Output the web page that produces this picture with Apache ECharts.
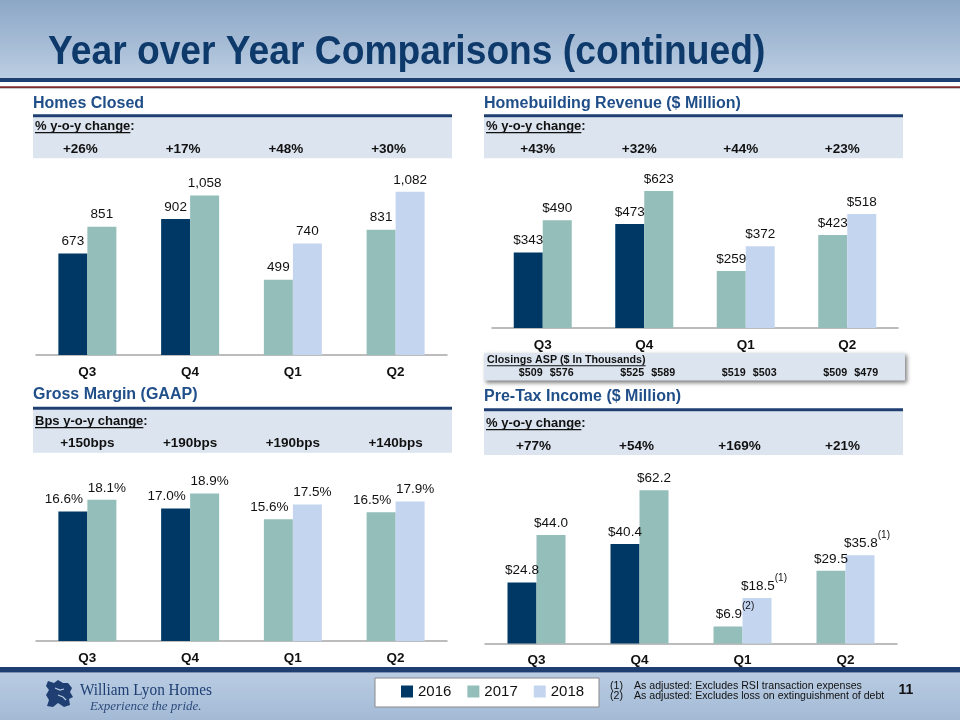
<!DOCTYPE html>
<html><head><meta charset="utf-8">
<script src="https://cdn.jsdelivr.net/npm/echarts@6/dist/echarts.min.js"></script>
<style>html,body{margin:0;padding:0;background:#fff}#c{width:960px;height:720px}</style>
</head><body><div id="c"></div>
<script>
// ---------------- data ----------------
const quarters = ['Q3', 'Q4', 'Q1', 'Q2'];
const years = ['2016', '2017', '2018'];
const priorYear = ['2016', '2016', '2017', '2017'];
const currentYear = ['2017', '2017', '2018', '2018'];

const homesPrior = [673, 902, 499, 831];
const homesCurrent = [851, 1058, 740, 1082];
const homesChange = ['+26%', '+17%', '+48%', '+30%'];

const revenuePrior = [343, 473, 259, 423];
const revenueCurrent = [490, 623, 372, 518];
const revenueChange = ['+43%', '+32%', '+44%', '+23%'];
const aspPrior = [509, 525, 519, 509];
const aspCurrent = [576, 589, 503, 479];

const marginPrior = [16.6, 17.0, 15.6, 16.5];
const marginCurrent = [18.1, 18.9, 17.5, 17.9];
const marginChange = ['+150bps', '+190bps', '+190bps', '+140bps'];

const pretaxPrior = [24.8, 40.4, 6.9, 29.5];
const pretaxCurrent = [44.0, 62.2, 18.5, 35.8];
const pretaxPriorNote = ['', '', '(2)', ''];
const pretaxCurrentNote = ['', '', '(1)', '(1)'];
const pretaxChange = ['+77%', '+54%', '+169%', '+21%'];

const footnoteMarks = ['(1)', '(2)'];
const footnotes = ['As adjusted: Excludes RSI transaction expenses', 'As adjusted: Excludes loss on extinguishment of debt'];

// ---------------- style ----------------
const FONT = '"Liberation Sans", Arial, Helvetica, sans-serif';
const SERIF = '"Liberation Serif", "Times New Roman", serif';
const NAVY = '#1F3F73';
const HEAD = '#1F4E89';
const BAND = '#DCE4EF';
const yearColor = { '2016': '#003865', '2017': '#93BEB9', '2018': '#C4D5EF' };

const panels = [
  { title: 'Homes Closed', sub: '% y-o-y change', change: homesChange, prior: homesPrior, current: homesCurrent,
    fmt: v => v.toLocaleString('en-US'), x0: 33, x1: 452, titleY: 104, lineY: 114.3, bandY1: 158.3, subY: 126, valY: 149, valShift: -7,
    grid: { left: 36, width: 411, top: 174, height: 181 }, max: 1200 },
  { title: 'Homebuilding Revenue ($ Million)', sub: '% y-o-y change', change: revenueChange, prior: revenuePrior, current: revenueCurrent,
    fmt: v => '$' + v, x0: 484, x1: 903, titleY: 104, lineY: 114.3, bandY1: 158.3, subY: 126, valY: 149, valShift: -5,
    grid: { left: 492, width: 406, top: 174, height: 154 }, max: 700 },
  { title: 'Gross Margin (GAAP)', sub: 'Bps y-o-y change', change: marginChange, prior: marginPrior, current: marginCurrent,
    fmt: v => v.toFixed(1) + '%', x0: 33, x1: 452, titleY: 395, lineY: 406.7, bandY1: 452.7, subY: 421, valY: 443, valShift: 0,
    grid: { left: 36, width: 411, top: 485, height: 156 }, max: 20, offL: [-9, 0], offR: [5, 0] },
  { title: 'Pre-Tax Income ($ Million)', sub: '% y-o-y change', change: pretaxChange, prior: pretaxPrior, current: pretaxCurrent,
    fmt: v => '$' + v.toFixed(1), x0: 484, x1: 903, titleY: 397, lineY: 408.3, bandY1: 455, subY: 423, valY: 446, valShift: -3,
    grid: { left: 485, width: 412, top: 471, height: 172.5 }, max: 70, notesL: pretaxPriorNote, notesR: pretaxCurrentNote }
];

// ---------------- series ----------------
function buildSeries(p, gi) {
  const out = [];
  const slots = [
    { key: 'L', vals: p.prior, yrs: priorYear, notes: p.notesL, off: p.offL || [0, 0] },
    { key: 'R', vals: p.current, yrs: currentYear, notes: p.notesR, off: p.offR || [0, 0] }
  ];
  slots.forEach(s => {
    years.forEach(y => {
      if (!s.yrs.includes(y)) return;
      out.push({
        name: y, type: 'bar', xAxisIndex: gi, yAxisIndex: gi, stack: s.key + gi,
        barWidth: 29, barGap: '0%',
        itemStyle: { color: yearColor[y] },
        label: {
          show: true, position: 'top', distance: 5, fontSize: 13.5, color: '#111', fontFamily: FONT, offset: s.off,
          formatter: prm => {
            const n = s.notes ? s.notes[prm.dataIndex] : '';
            const t = p.fmt(prm.value);
            return n ? '{v|' + t + '}{s|' + n + '}' : t;
          },
          rich: {
            v: { fontSize: 13.5, fontFamily: FONT, color: '#111', lineHeight: 20, verticalAlign: 'bottom' },
            s: { fontSize: 10, fontFamily: FONT, color: '#111', lineHeight: 10, verticalAlign: 'top' }
          }
        },
        data: s.vals.map((v, i) => {
          if (s.yrs[i] !== y) return null;
          const n = s.notes ? s.notes[i] : '';
          return n ? { value: v, label: { offset: [s.off[0] + 7, s.off[1]] } } : v;
        })
      });
    });
  });
  return out;
}

const series = [];
panels.forEach((p, gi) => series.push(...buildSeries(p, gi)));

const chart = echarts.init(document.getElementById('c'), null, { renderer: 'canvas', width: 960, height: 720 });

chart.setOption({
  animation: false,
  backgroundColor: '#ffffff',
  textStyle: { fontFamily: FONT },
  legend: {
    data: years, left: 401, top: 684, padding: 0, itemWidth: 12, itemHeight: 12, itemGap: 16, icon: 'rect',
    selectedMode: false, textStyle: { fontSize: 15, color: '#111', fontFamily: FONT }
  },
  grid: panels.map(p => ({ left: p.grid.left, top: p.grid.top, width: p.grid.width, height: p.grid.height })),
  xAxis: panels.map((p, gi) => ({
    type: 'category', gridIndex: gi, data: quarters,
    axisLine: { lineStyle: { color: '#A6A6A6', width: 1.5 } },
    axisTick: { show: false },
    axisLabel: { fontWeight: 'bold', fontSize: 13.5, color: '#111', margin: 10, fontFamily: FONT }
  })),
  yAxis: panels.map((p, gi) => ({ type: 'value', gridIndex: gi, min: 0, max: p.max, show: false, splitLine: { show: false } })),
  series: series
});

// ---------------- decorations ----------------
const ctx = document.createElement('canvas').getContext('2d');
function tw(text, font) { ctx.font = font; return ctx.measureText(text).width; }
function F(size, weight, fam) { return (weight || 'normal') + ' ' + size + 'px ' + (fam || FONT); }
function text(t, x, y, font, color, align, extra) {
  return Object.assign({
    type: 'text', x: x, y: y, silent: true, z: 10,
    style: { text: t, font: font, fill: color || '#111', textAlign: align || 'left', textVerticalAlign: 'middle', align: align || 'left', verticalAlign: 'middle' }
  }, extra || {});
}
function rect(x, y, w, h, fill, extra) {
  return Object.assign({ type: 'rect', silent: true, z: 1, shape: { x: x, y: y, width: w, height: h }, style: { fill: fill } }, extra || {});
}

const g = [];
// header bar
g.push(rect(0, 0, 960, 78, new echarts.graphic.LinearGradient(0, 0, 0, 1, [
  { offset: 0, color: '#8CA7C6' }, { offset: 1, color: '#BBCDE2' }]), { z: 0 }));
g.push(rect(0, 78, 960, 4, NAVY));
g.push(rect(0, 86.3, 960, 1.6, '#7E2B2E'));
g.push(rect(0, 87.9, 960, 1, '#C9C9C9'));
g.push(text('Year over Year Comparisons (continued)', 48, 52.5, F(40, 'bold'), '#0E3A6B', 'left', { scaleX: 0.93, originX: 0, originY: 0 }));

// footer
g.push(rect(0, 667, 960, 5.5, NAVY));
g.push(rect(0, 672.5, 960, 47.5, new echarts.graphic.LinearGradient(0, 0, 0, 1, [
  { offset: 0, color: '#B9CCE2' }, { offset: 1, color: '#A3BAD6' }]), { z: 0 }));
// lion mark (decorative)
g.push({ type: 'polygon', silent: true, z: 2, shape: { points: [[48, 681], [54, 683], [58, 680], [63, 683], [68, 683], [72, 688], [70, 692], [73, 697], [69, 699], [70, 705], [64, 707], [58, 703], [53, 707], [47, 706], [49, 700], [46, 695], [49, 690], [46, 686]] }, style: { fill: NAVY } });
g.push({ type: 'polyline', silent: true, z: 3, shape: { points: [[55, 688], [60, 690], [64, 689]] }, style: { stroke: '#B9CCE2', lineWidth: 1.2, fill: null } });
g.push({ type: 'polyline', silent: true, z: 3, shape: { points: [[58, 695], [63, 697], [66, 700]] }, style: { stroke: '#B9CCE2', lineWidth: 1.2, fill: null } });
g.push(text('William Lyon Homes', 80, 691, F(17, 'normal', SERIF), NAVY, 'left', { scaleX: 0.9, originX: 0 }));
g.push(text('Experience the pride.', 90, 707, F(13, 'italic', SERIF), '#2C4B7C', 'left'));
// legend box
g.push(rect(375, 678, 224, 29, '#ffffff', { z: 2, style: { fill: '#ffffff', stroke: '#8A8A8A', lineWidth: 1 } }));
// footnotes
footnotes.forEach((f, i) => {
  g.push(text(footnoteMarks[i], 610, 686.5 + i * 10, F(10.6), '#111', 'left'));
  g.push(text(f, 634, 686.5 + i * 10, F(10.6), '#111', 'left'));
});
g.push(text('11', 906, 690, F(14, 'bold'), '#111', 'center'));

// panel headers
panels.forEach((p, gi) => {
  g.push(text(p.title, p.x0, p.titleY, F(16, 'bold'), HEAD, 'left'));
  g.push(rect(p.x0, p.lineY, p.x1 - p.x0, 3, NAVY));
  g.push(rect(p.x0, p.lineY + 3, p.x1 - p.x0, p.bandY1 - p.lineY - 3, BAND, { z: 0 }));
  const subFont = F(13, 'bold');
  g.push(text(p.sub + ':', p.x0 + 2, p.subY, subFont, '#111', 'left'));
  g.push(rect(p.x0 + 2, p.subY + 6, tw(p.sub, subFont), 1.2, '#111', { z: 10 }));
  p.change.forEach((c, i) => {
    const cx = chart.convertToPixel({ xAxisIndex: gi }, quarters[i]);
    g.push(text(c, cx + p.valShift, p.valY, F(13.5, 'bold'), '#111', 'center'));
  });
});

// closings ASP box under revenue
g.push(rect(484, 353, 421, 27.5, BAND, { z: 2, style: { fill: BAND, shadowBlur: 4, shadowOffsetX: 2, shadowOffsetY: 2, shadowColor: 'rgba(0,0,0,0.5)' } }));
const aspTitle = 'Closings ASP ($ In Thousands)';
const aspFont = F(10.7, 'bold');
g.push(text(aspTitle, 487, 360.5, aspFont, '#111', 'left'));
g.push(rect(487, 365.3, tw(aspTitle, aspFont), 1, '#111', { z: 10 }));
quarters.forEach((q, i) => {
  const cx = chart.convertToPixel({ xAxisIndex: 1 }, q);
  g.push(text('$' + aspPrior[i], cx - 12, 373, aspFont, '#111', 'center'));
  g.push(text('$' + aspCurrent[i], cx + 19, 373, aspFont, '#111', 'center'));
});

chart.setOption({ graphic: { elements: g } });
</script>
</body></html>
